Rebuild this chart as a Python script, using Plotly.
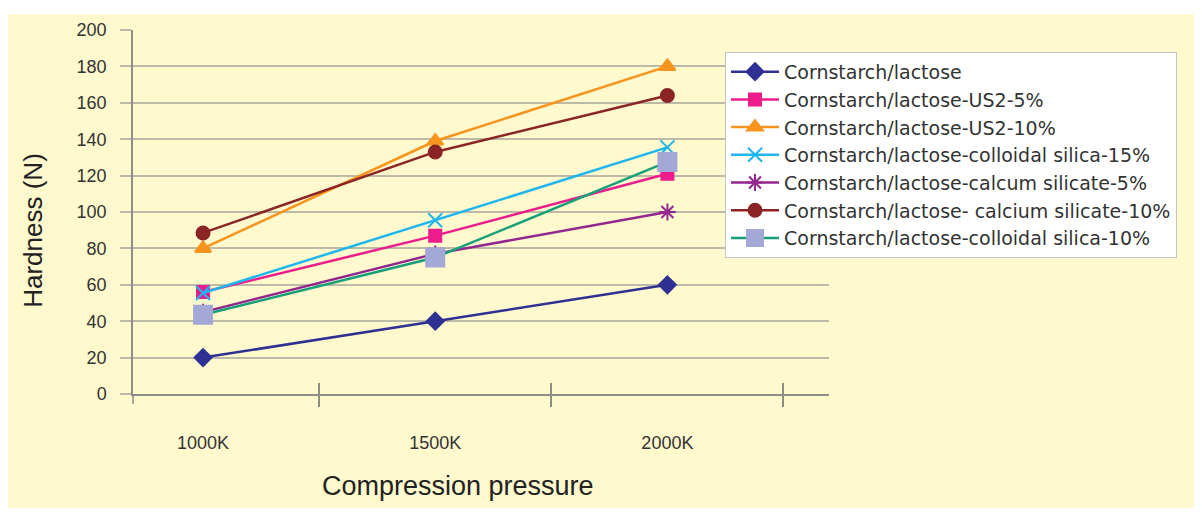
import plotly.graph_objects as go

pressures = ["1000K", "1500K", "2000K"]

cornstarch_lactose = [20, 40, 60]
us2_5 = [56, 87, 121]
us2_10 = [80, 139, 180]
colloidal_15 = [55.5, 95.5, 135.5]
calcium_5 = [45, 77, 100]
calcium_10 = [88.5, 133, 164]
colloidal_10 = [43.5, 75, 127.5]

series = [
    ("Cornstarch/lactose", cornstarch_lactose, "#2E3192", "#2E3192", "diamond", 13),
    ("Cornstarch/lactose-US2-5%", us2_5, "#EC1C8C", "#EC1C8C", "square", 12),
    ("Cornstarch/lactose-US2-10%", us2_10, "#F7941D", "#F7941D", "triangle-up", 14),
    ("Cornstarch/lactose-colloidal silica-15%", colloidal_15, "#1EB6EE", "#1EB6EE", "x-thin-open", 14),
    ("Cornstarch/lactose-calcum silicate-5%", calcium_5, "#92278F", "#92278F", "asterisk-open", 14),
    ("Cornstarch/lactose- calcium silicate-10%", calcium_10, "#8B2525", "#8B2525", "circle", 13),
    ("Cornstarch/lactose-colloidal silica-10%", colloidal_10, "#16A07A", "#A3A8D6", "square", 18),
]

bg = "#FFF9CD"
grid = "#BDBBA8"
axis_col = "#8E8E86"
font = "Liberation Sans, Arial, sans-serif"

fig = go.Figure()
for name, vals, lc, mc, sym, size in series:
    fig.add_trace(go.Scatter(
        x=pressures, y=vals, name=name, mode="lines+markers",
        line=dict(color=lc, width=2.5),
        marker=dict(symbol=sym, size=size, color=mc,
                    line=dict(color=mc, width=2)),
    ))

# empty trace so the overlay axis (upper half of the cross ticks) is drawn
fig.add_trace(go.Scatter(x=[], y=[], xaxis="x2", showlegend=False, hoverinfo="skip"))

xr = [-0.3017, 2.696]

# the page body adds an 8px offset, so the margins are reduced by 8
fig.update_layout(
    width=1202, height=513,
    margin=dict(l=125, r=381, t=18, b=127),
    paper_bgcolor=bg, plot_bgcolor=bg,
    font=dict(family=font, color="#333333"),
    showlegend=True,
    legend=dict(
        x=0.8506, y=0.94, xanchor="left", yanchor="top",
        bgcolor="white", bordercolor="#C4C4C4", borderwidth=1,
        font=dict(size=19, color="#333333", family="DejaVu Sans, sans-serif"),
        itemwidth=48, tracegroupgap=0,
    ),
    xaxis=dict(
        type="category", range=xr, tickson="boundaries",
        ticks="outside", ticklen=11, tickcolor=axis_col, tickwidth=1.5,
        showline=True, linecolor=axis_col, linewidth=1.5,
        showgrid=False, zeroline=False,
        tickfont=dict(size=18, color="#333333"),
        ticklabelstandoff=32,
    ),
    xaxis2=dict(
        overlaying="x", anchor="y", side="bottom", range=xr,
        tickmode="array", tickvals=[0.5, 1.5, 2.5],
        ticks="inside", ticklen=11, tickcolor=axis_col, tickwidth=1.5,
        showticklabels=False, showgrid=False, zeroline=False, showline=False,
    ),
    yaxis=dict(
        range=[0, 200], dtick=20,
        ticks="outside", ticklen=11, tickcolor=grid, tickwidth=1.5,
        showgrid=True, gridcolor=grid, gridwidth=1.5,
        showline=True, linecolor=axis_col, linewidth=1.5,
        zeroline=False,
        tickfont=dict(size=18, color="#333333"),
        ticklabelstandoff=10,
    ),
    annotations=[
        dict(text="Hardness (N)", xref="paper", yref="paper",
             x=-0.1437, y=0.4511, xanchor="center", yanchor="middle",
             showarrow=False, textangle=-90,
             font=dict(size=26, color="#222222")),
        dict(text="Compression pressure", xref="paper", yref="paper",
             x=0.4670, y=-0.2527, xanchor="center", yanchor="middle",
             showarrow=False,
             font=dict(size=27, color="#222222")),
    ],
    shapes=[
        # white strips at the page edges
        dict(type="rect", xref="paper", yref="paper", x0=-0.2, x1=1.6,
             y0=1.0435, y1=1.1, fillcolor="white", line=dict(width=0), layer="below"),
        dict(type="rect", xref="paper", yref="paper", x0=-0.2, x1=1.6,
             y0=-0.35, y1=-0.3125, fillcolor="white", line=dict(width=0), layer="below"),
        # y axis line running past the x axis
        dict(type="line", xref="paper", yref="paper", x0=0, x1=0,
             y0=0, y1=-0.0272, line=dict(color=axis_col, width=1.5)),
    ],
)

fig.write_html("out.html")
